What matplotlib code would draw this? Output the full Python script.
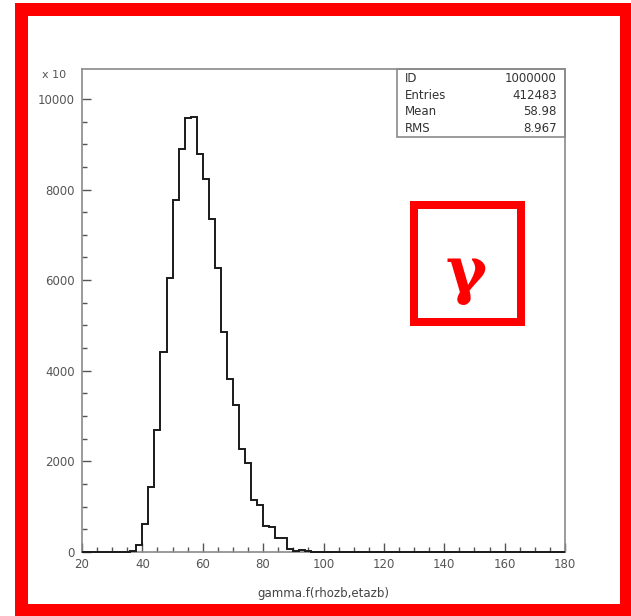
import numpy as np
import matplotlib.pyplot as plt
from matplotlib.patches import Rectangle

# histogram of gamma.f(rhozb,etazb), 80 bins of width 2 between 20 and 180 (counts / 10)
bin_lo = 20
bin_hi = 180
bin_width = 2
counts = [
    0, 0, 0, 0, 0, 0, 0,                          # 20 - 34
    5, 30, 150, 610, 1430, 2700, 4410, 6040,      # 34 - 50
    7770, 8890, 9570, 9610, 8780, 8230, 7360,     # 50 - 64
    6260, 4860, 3810, 3250, 2270, 1970, 1150,     # 64 - 78
    1030, 575, 545, 320, 310, 70, 25, 45, 15,     # 78 - 96
    10, 8, 6, 4, 3, 2, 2, 1,                      # 96 - 112
    0, 0, 0, 0, 0, 0, 0, 0, 0, 0, 0, 0, 0, 0, 0, 0, 0,
    0, 0, 0, 0, 0, 0, 0, 0, 0, 0, 0, 0, 0, 0, 0, 0, 0,  # 112 - 180
]
stat_names = ["ID", "Entries", "Mean", "RMS"]
stat_values = ["1000000", "412483", "58.98", "8.967"]
xlabel = "gamma.f(rhozb,etazb)"
y_max = 10660

W, H = 631, 616
fig = plt.figure(figsize=(W / 100, H / 100), dpi=100)
ax = fig.add_axes([82 / W, 1 - 552 / H, 483 / W, 483 / H])

edges = np.arange(bin_lo, bin_hi + bin_width, bin_width)
ax.stairs(counts, edges, color="#1a1a1a", linewidth=1.4, baseline=0, clip_on=False, zorder=3)

ax.set_xlim(bin_lo, bin_hi)
ax.set_ylim(0, y_max)
ax.set_xticks(np.arange(20, 181, 20))
ax.set_xticks(np.arange(20, 181, 5), minor=True)
ax.set_yticks(np.arange(0, 10001, 2000))
ax.set_yticks(np.arange(0, 10001, 500), minor=True)
ax.tick_params(which="both", direction="in", colors="#555555", labelsize=8.5)
ax.tick_params(which="major", length=6.5, width=1)
ax.tick_params(which="minor", length=3.3, width=1)
ax.tick_params(axis="y", pad=5)
ax.tick_params(axis="x", pad=4)
for sp in ax.spines.values():
    sp.set_color("#8a8a8a")
    sp.set_linewidth(1.2)
ax.set_xlabel(xlabel, fontsize=8.5, color="#444444", labelpad=12)

fig.text(42 / W, 1 - 75 / H, "x 10", fontsize=8, color="#555555", va="center")

# statistics box in the upper right corner
ax.add_patch(Rectangle((0.652, 0.859), 0.348, 0.141, transform=ax.transAxes,
                       fill=False, edgecolor="#8a8a8a", linewidth=1.2, clip_on=False))
rows_y = [0.981, 0.946, 0.911, 0.877]
for name, val, yy in zip(stat_names, stat_values, rows_y):
    ax.text(0.669, yy, name, transform=ax.transAxes, fontsize=8.5,
            color="#333333", va="center", ha="left")
    ax.text(0.983, yy, val, transform=ax.transAxes, fontsize=8.5,
            color="#333333", va="center", ha="right")

# red frame around the whole figure
red = "#ff0000"
for x0, y0, x1, y1 in [(15, 3, 631, 16), (15, 604, 631, 616),
                       (15, 3, 28, 616), (620, 3, 631, 616)]:
    fig.patches.append(Rectangle((x0 / W, 1 - y1 / H), (x1 - x0) / W, (y1 - y0) / H,
                                 transform=fig.transFigure, color=red, linewidth=0))

# red box with the gamma symbol
for x0, y0, x1, y1 in [(410, 201, 525, 209), (410, 318, 525, 326),
                       (410, 201, 418, 326), (517, 201, 525, 326)]:
    fig.patches.append(Rectangle((x0 / W, 1 - y1 / H), (x1 - x0) / W, (y1 - y0) / H,
                                 transform=fig.transFigure, color=red, linewidth=0))
fig.text(466 / W, 1 - 292 / H, "γ", color=red, fontsize=45, fontweight="bold",
         family="DejaVu Serif", ha="center", va="baseline")

fig.savefig("out.png", dpi=100)
